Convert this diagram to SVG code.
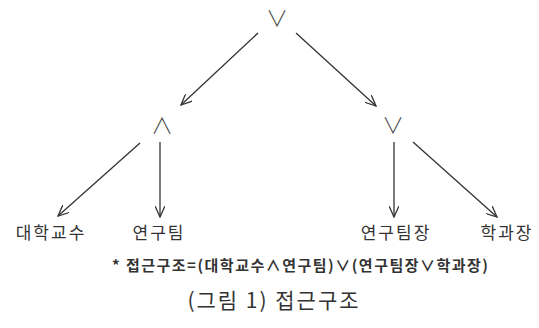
<svg xmlns="http://www.w3.org/2000/svg" width="539" height="328" viewBox="0 0 539 328">
<defs>
<marker id="ah" viewBox="0 0 12 10" refX="11" refY="5" markerWidth="12" markerHeight="10" markerUnits="userSpaceOnUse" orient="auto">
<path d="M0,0 L11,5 L0,10" fill="none" stroke="#333" stroke-width="1.3"/>
</marker>
<style>
.op{font-family:"Noto Sans CJK KR",sans-serif;font-size:22px;font-weight:300;fill:#444;text-anchor:middle}
.lb{font-family:"Noto Sans CJK KR",sans-serif;font-size:17px;fill:#333;text-anchor:middle;letter-spacing:2px}
.cn{stroke:#333;stroke-width:1.3;fill:none;marker-end:url(#ah)}
</style>
</defs>
<rect width="539" height="328" fill="#fff"/>
<g id="connectors">
<line class="cn" x1="258" y1="33" x2="181" y2="105"/>
<line class="cn" x1="296" y1="33" x2="376" y2="106"/>
<line class="cn" x1="140" y1="143" x2="58" y2="216"/>
<line class="cn" x1="160" y1="142" x2="160" y2="217"/>
<line class="cn" x1="394" y1="142" x2="394" y2="217"/>
<line class="cn" x1="413" y1="142" x2="497" y2="217"/>
</g>
<g id="or-top"><text class="op" x="277" y="26">∨</text></g>
<g id="and-left"><text class="op" x="162" y="133">∧</text></g>
<g id="or-right"><text class="op" x="393" y="133">∨</text></g>
<g id="n1"><text class="lb" x="51" y="239">대학교수</text></g>
<g id="n2"><text class="lb" x="159" y="239">연구팀</text></g>
<g id="n3"><text class="lb" x="396" y="239">연구팀장</text></g>
<g id="n4"><text class="lb" x="507" y="239">학과장</text></g>
<g id="formula"><text x="112" y="271" font-family="'Noto Sans CJK KR',sans-serif" font-size="15" font-weight="bold" fill="#333" textLength="376" lengthAdjust="spacing">* 접근구조=(대학교수∧연구팀)∨(연구팀장∨학과장)</text></g>
<g id="caption"><text x="274" y="308" font-family="'Noto Sans CJK KR',sans-serif" font-size="21" fill="#333" text-anchor="middle" letter-spacing="2">(그림 1) 접근구조</text></g>
</svg>
